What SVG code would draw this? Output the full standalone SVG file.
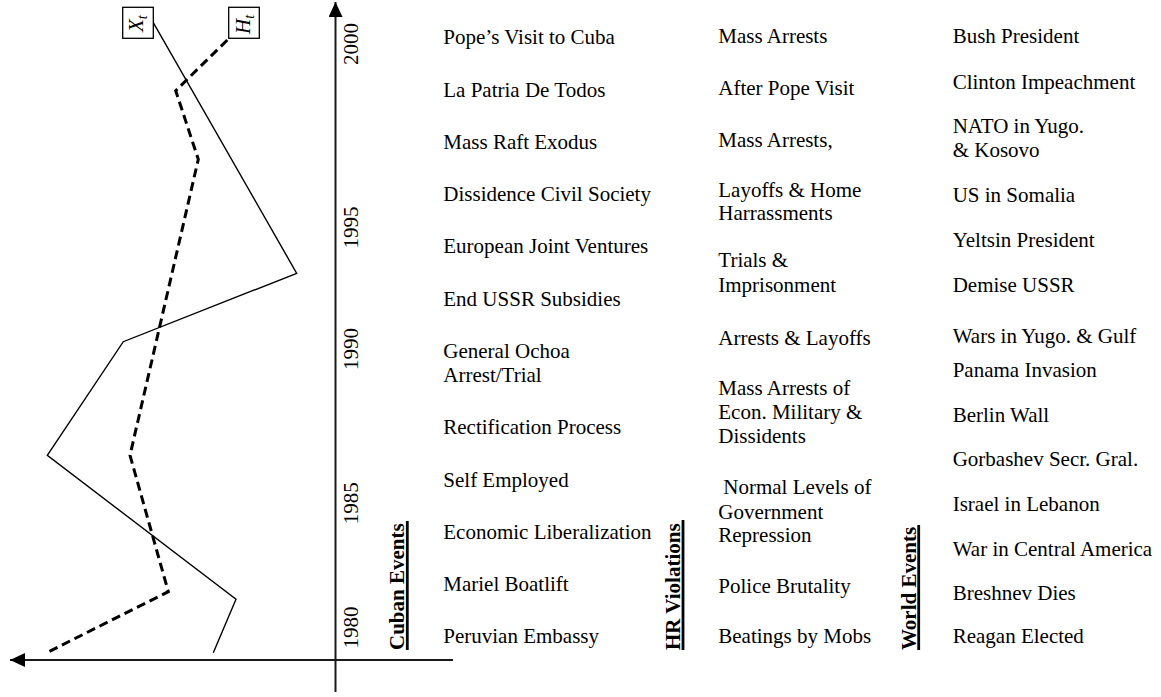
<svg xmlns="http://www.w3.org/2000/svg" width="1161" height="697" viewBox="0 0 1161 697">
<style>
text{font-family:"Liberation Serif","Times New Roman",serif;font-size:21px;fill:#000}
.yr{text-anchor:middle}
.cat{font-weight:bold}
.ul{stroke:#000;stroke-width:2.8}
.ax{stroke:#1a1a1a;stroke-width:2;fill:none}
.xs{stroke:#000;stroke-width:1.4;fill:none;stroke-linejoin:miter}
.hs{stroke:#000;stroke-width:3;fill:none;stroke-dasharray:9 5;stroke-linejoin:miter}
.box{fill:#fff;stroke:#000;stroke-width:1.3}
.it{font-style:italic}
</style>
<defs>
<marker id="ah" markerWidth="16" markerHeight="14" refX="15" refY="7" orient="auto" markerUnits="userSpaceOnUse">
<path d="M0,0 L15,7 L0,14 Z" fill="#000"/>
</marker>
</defs>
<g id="connectors">
<line class="ax" x1="335.5" y1="692" x2="335.5" y2="2" marker-end="url(#ah)"/>
<line class="ax" x1="453" y1="660" x2="10" y2="660" marker-end="url(#ah)"/>
<polyline id="xt-line" class="xs" points="153.3,22.7 296.7,273.3 123.3,341.7 47.3,455.3 236,599.3 213.3,652.7"/>
<polyline id="ht-line" class="hs" points="227.3,40 175.7,90.7 198.3,159.3 130,455.3 168.3,591.7 46.7,652.7"/>
</g>
<g id="node-xt">
<rect class="box" x="122.7" y="7.3" width="30.6" height="31"/>
<text class="it" transform="translate(143.3,32) rotate(-90)">X<tspan font-size="14" dy="4">t</tspan></text>
</g>
<g id="node-ht">
<rect class="box" x="228.7" y="7.3" width="30.6" height="31"/>
<text class="it" transform="translate(249.5,34) rotate(-90)">H<tspan font-size="14" dy="4">t</tspan></text>
</g>
<g id="years">
<text class="yr" transform="translate(357.5,44) rotate(-90)">2000</text>
<text class="yr" transform="translate(357.5,227.5) rotate(-90)">1995</text>
<text class="yr" transform="translate(357.5,349) rotate(-90)">1990</text>
<text class="yr" transform="translate(357.5,503.3) rotate(-90)">1985</text>
<text class="yr" transform="translate(357.5,627.5) rotate(-90)">1980</text>
</g>
<g id="cat-cuban">
<text class="cat" transform="translate(403.5,650) rotate(-90)">Cuban Events</text>
<line class="ul" x1="407.3" y1="521" x2="407.3" y2="650"/>
</g>
<g id="cat-hr">
<text class="cat" transform="translate(680,650) rotate(-90)">HR Violations</text>
<line class="ul" x1="683" y1="520" x2="683" y2="650"/>
</g>
<g id="cat-world">
<text class="cat" transform="translate(915.5,650) rotate(-90)">World Events</text>
<line class="ul" x1="918.7" y1="525" x2="918.7" y2="650"/>
</g>
<g id="cuban-events">
<text x="443.3" y="44.3">Pope’s Visit to Cuba</text>
<text x="443.3" y="97.3">La Patria De Todos</text>
<text x="443.3" y="149">Mass Raft Exodus</text>
<text x="443.3" y="201">Dissidence Civil Society</text>
<text x="443.3" y="253.3">European Joint Ventures</text>
<text x="443.3" y="305.7">End USSR Subsidies</text>
<text x="443.3" y="357.7">General Ochoa</text>
<text x="443.3" y="381.7">Arrest/Trial</text>
<text x="443.3" y="434.3">Rectification Process</text>
<text x="443.3" y="486.7">Self Employed</text>
<text x="443.3" y="539">Economic Liberalization</text>
<text x="443.3" y="590.5">Mariel Boatlift</text>
<text x="443.3" y="643.3">Peruvian Embassy</text>
</g>
<g id="hr-violations">
<text x="718.3" y="43.3">Mass Arrests</text>
<text x="718.3" y="95">After Pope Visit</text>
<text x="718.3" y="146.7">Mass Arrests,</text>
<text x="718.3" y="196.7">Layoffs &amp; Home</text>
<text x="718.3" y="220">Harrassments</text>
<text x="718.3" y="266.7">Trials &amp;</text>
<text x="718.3" y="291.7">Imprisonment</text>
<text x="718.3" y="345">Arrests &amp; Layoffs</text>
<text x="718.3" y="395">Mass Arrests of</text>
<text x="718.3" y="419">Econ. Military &amp;</text>
<text x="718.3" y="443.3">Dissidents</text>
<text x="723.3" y="494.3">Normal Levels of</text>
<text x="718.3" y="519">Government</text>
<text x="718.3" y="542.3">Repression</text>
<text x="718.3" y="593.3">Police Brutality</text>
<text x="718.3" y="643.3">Beatings by Mobs</text>
</g>
<g id="world-events">
<text x="952.7" y="43.3">Bush President</text>
<text x="952.7" y="89.3">Clinton Impeachment</text>
<text x="952.7" y="133.3">NATO in Yugo.</text>
<text x="952.7" y="156.7">&amp; Kosovo</text>
<text x="952.7" y="201.7">US in Somalia</text>
<text x="952.7" y="246.7">Yeltsin President</text>
<text x="952.7" y="291.7">Demise USSR</text>
<text x="952.7" y="343.3">Wars in Yugo. &amp; Gulf</text>
<text x="952.7" y="376.7">Panama Invasion</text>
<text x="952.7" y="422.3">Berlin Wall</text>
<text x="952.7" y="465.7">Gorbashev Secr. Gral.</text>
<text x="952.7" y="510.7">Israel in Lebanon</text>
<text x="952.7" y="555.7">War in Central America</text>
<text x="952.7" y="600">Breshnev Dies</text>
<text x="952.7" y="643.3">Reagan Elected</text>
</g>
</svg>
